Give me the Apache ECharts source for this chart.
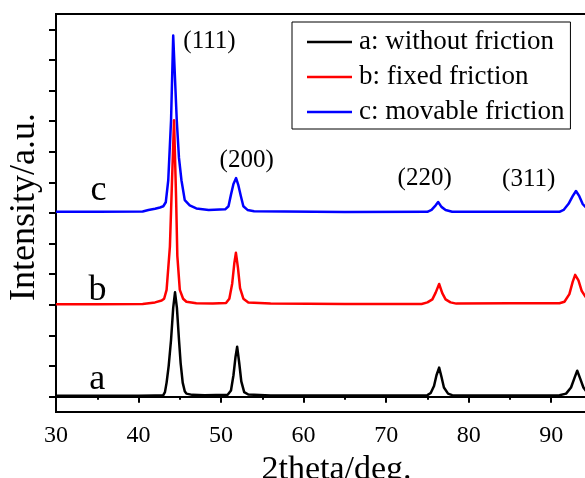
<!DOCTYPE html>
<html>
<head>
<meta charset="utf-8">
<script src="https://cdn.jsdelivr.net/npm/echarts@6/dist/echarts.min.js"></script>
<style>
  html, body { margin: 0; padding: 0; background: #fff; }
  #chart { width: 585px; height: 478px; }
</style>
</head>
<body>
<div id="chart"></div>
<script>
// XRD patterns, [2theta, intensity] (curves offset by 3 and 6)
const seriesNames = ["a: without friction", "b: fixed friction", "c: movable friction"];
const seriesColors = ["#000000", "#ff0000", "#0000ff"];

const dataA = [
  [30, 0.03], [35, 0.03], [40, 0.03], [42, 0.04], [43.0, 0.05], [43.2, 0.15], [43.4, 0.46],
  [43.65, 1.0], [43.94, 1.86], [44.2, 2.9], [44.42, 3.41], [44.65, 2.9], [44.9, 1.86],
  [45.1, 1.1], [45.35, 0.46], [45.6, 0.18], [45.8, 0.1], [46.5, 0.06], [48, 0.05], [50.8, 0.06],
  [51.2, 0.2], [51.5, 0.7], [51.75, 1.3], [51.95, 1.63], [52.2, 1.1], [52.45, 0.5],
  [52.8, 0.15], [53.3, 0.07], [56, 0.04], [65, 0.04], [72, 0.04], [75.0, 0.05],
  [75.4, 0.12], [75.8, 0.35], [76.1, 0.7], [76.42, 0.95], [76.7, 0.65], [77.0, 0.3],
  [77.5, 0.1], [78, 0.05], [85, 0.04], [91.0, 0.05], [91.8, 0.1], [92.4, 0.3], [92.8, 0.6],
  [93.15, 0.85], [93.5, 0.6], [93.9, 0.3], [94.3, 0.15], [95, 0.08]
];

const dataB = [
  [30, 3.02], [35, 3.02], [40.5, 3.03], [42.0, 3.08], [42.8, 3.14], [43.1, 3.2], [43.4, 3.49],
  [43.8, 4.9], [44.05, 7.0], [44.3, 9.03], [44.55, 6.5], [44.7, 4.6], [45.0, 3.49],
  [45.4, 3.2], [45.8, 3.1], [47, 3.05], [49, 3.04], [50.6, 3.06], [51.0, 3.2], [51.35, 3.7],
  [51.6, 4.35], [51.8, 4.7], [52.05, 4.2], [52.3, 3.55], [52.7, 3.2], [53.3, 3.08],
  [56, 3.04], [65, 3.03], [74.3, 3.03], [75.0, 3.08], [75.6, 3.18], [76.0, 3.4],
  [76.42, 3.68], [76.8, 3.38], [77.2, 3.18], [77.8, 3.08], [78.5, 3.04], [85, 3.05],
  [91.0, 3.05], [91.6, 3.1], [92.2, 3.35], [92.6, 3.75], [92.9, 3.98], [93.3, 3.8],
  [93.7, 3.45], [94.2, 3.25], [95, 3.15]
];

const dataC = [
  [30, 6.04], [35, 6.04], [40.5, 6.05], [41.2, 6.1], [42.0, 6.14], [42.6, 6.18], [43.0, 6.22],
  [43.3, 6.35], [43.6, 7.07], [43.94, 9.03], [44.2, 11.8], [44.63, 9.03], [44.9, 7.8],
  [45.2, 7.07], [45.6, 6.42], [46.2, 6.25], [47, 6.15], [48.5, 6.1], [50.5, 6.12],
  [50.9, 6.22], [51.2, 6.6], [51.5, 6.95], [51.82, 7.14], [52.1, 6.9], [52.4, 6.55],
  [52.7, 6.22], [53.2, 6.1], [54, 6.06], [65, 6.03], [75.0, 6.04], [75.5, 6.1], [76.0, 6.25],
  [76.3, 6.36], [76.7, 6.2], [77.2, 6.1], [78.0, 6.04], [85, 6.04], [91.0, 6.04],
  [91.5, 6.1], [92.1, 6.3], [92.6, 6.55], [93.0, 6.72], [93.4, 6.55], [93.8, 6.3],
  [94.3, 6.15], [95, 6.1]
];

// peak indices and curve letters, anchored in data coordinates
const peakLabels = [
  { text: "(111)", coord: [48.6, 11.59] },
  { text: "(200)", coord: [53.1, 7.71] },
  { text: "(220)", coord: [74.67, 7.12] },
  { text: "(311)", coord: [87.27, 7.08] }
];
const curveLabels = [
  { text: "a", coord: [35.0, 0.55] },
  { text: "b", coord: [35.03, 3.46] },
  { text: "c", coord: [35.15, 6.72] }
];

const xTicks = [30, 40, 50, 60, 70, 80, 90];
const yTicks = [0, 1, 2, 3, 4, 5, 6, 7, 8, 9, 10, 11, 12];

const FONT = "Liberation Serif";
const chart = echarts.init(document.getElementById("chart"));

function markText(list, size) {
  return list.map(function (item) {
    return {
      coord: item.coord,
      symbolSize: 0,
      label: {
        show: true,
        position: "inside",
        formatter: item.text,
        color: "#000",
        fontFamily: FONT,
        fontSize: size
      }
    };
  });
}

const lineSeries = [dataC, dataB, dataA].map(function (d, i) {
  const k = 2 - i;
  return {
    name: seriesNames[k],
    type: "line",
    data: d,
    symbol: "none",
    lineStyle: { color: seriesColors[k], width: 2.5, join: "round" },
    itemStyle: { color: seriesColors[k] },
    z: 2 + i
  };
});

lineSeries[2].markPoint = {
  symbol: "circle",
  silent: true,
  data: markText(peakLabels, 25).concat(markText(curveLabels, 36))
};

chart.setOption({
  animation: false,
  backgroundColor: "#fff",
  grid: {
    left: 56,
    top: 14,
    right: -24,
    bottom: 66,
    outerBoundsMode: "none",
    containLabel: false,
    show: true,
    borderColor: "#000",
    borderWidth: 2
  },
  legend: {
    data: seriesNames,
    orient: "vertical",
    left: 292,
    top: 22,
    padding: [5, 6, 2, 15],
    itemWidth: 45,
    itemHeight: 2.5,
    itemGap: 5,
    icon: "rect",
    borderColor: "#000",
    borderWidth: 1,
    textStyle: {
      fontFamily: FONT,
      fontSize: 27,
      lineHeight: 30,
      color: "#000",
      padding: [0, 0, 0, 2]
    }
  },
  xAxis: {
    type: "value",
    min: 30,
    max: 97,
    interval: 10,
    name: "2theta/deg.",
    nameLocation: "middle",
    nameGap: 29,
    nameTextStyle: { fontFamily: FONT, fontSize: 34, color: "#000", padding: [0, 0, 0, 8] },
    axisLine: { lineStyle: { color: "#000", width: 2 } },
    axisTick: { inside: false, length: 6, lineStyle: { color: "#000", width: 2 } },
    minorTick: { show: true, splitNumber: 2, length: 3, lineStyle: { color: "#000", width: 2 } },
    axisLabel: {
      fontFamily: FONT,
      fontSize: 24,
      color: "#000",
      margin: 12,
      customValues: xTicks
    },
    splitLine: { show: false }
  },
  yAxis: {
    type: "value",
    min: -0.5,
    max: 12.5,
    name: "Intensity/a.u.",
    nameLocation: "middle",
    nameGap: 13,
    nameTextStyle: { fontFamily: FONT, fontSize: 36, color: "#000", padding: [0, 0, 0, 12] },
    axisLine: { lineStyle: { color: "#000", width: 2 } },
    axisTick: { inside: false, length: 7, customValues: yTicks, lineStyle: { color: "#000", width: 2 } },
    axisLabel: { show: false },
    splitLine: { show: false }
  },
  series: lineSeries
});
</script>
</body>
</html>
